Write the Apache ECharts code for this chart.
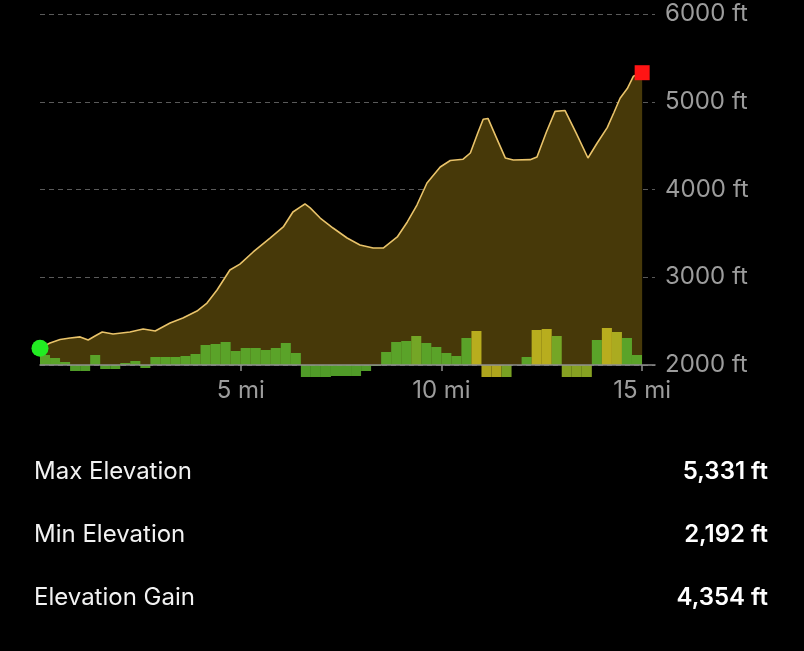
<!DOCTYPE html>
<html>
<head>
<meta charset="utf-8">
<script src="https://cdn.jsdelivr.net/npm/echarts@6/dist/echarts.min.js"></script>
<style>
html,body{margin:0;padding:0;background:#000;}
#chart{width:804px;height:651px;}
</style>
</head>
<body>
<div id="chart"></div>
<script>
// Distance along the track (mi) and elevation (ft)
const distanceMi = [0,0.25,0.5,0.75,1.0,1.2,1.37,1.55,1.82,2.24,2.57,2.87,3.24,3.56,3.91,4.16,4.41,4.73,4.98,5.31,5.73,6.06,6.30,6.48,6.60,6.73,6.98,7.30,7.65,7.97,8.30,8.55,8.90,9.15,9.39,9.64,9.97,10.22,10.54,10.72,10.91,11.04,11.16,11.36,11.59,11.79,12.21,12.38,12.61,12.83,13.08,13.36,13.65,13.88,14.13,14.30,14.45,14.63,14.78,15.0];
const elevationFt = [2192,2250,2290,2308,2320,2285,2330,2376,2353,2376,2410,2387,2479,2535,2615,2706,2855,3083,3150,3288,3447,3573,3744,3800,3835,3790,3675,3561,3447,3368,3333,3333,3459,3630,3823,4074,4256,4330,4345,4416,4650,4800,4810,4600,4360,4336,4340,4370,4650,4890,4900,4640,4359,4530,4705,4880,5040,5150,5290,5331];

// Grade per quarter-mile segment (relative units; steep descents are clipped by the chart)
const gradeValues = [10,7,3,-6,-6,10,-4,-4,2,4,-3,8,8,8,9,11,20,21,23,14,17,17,15,17,22,12,-13,-13,-13,-11,-11,-11,-6,-1,13,23,24,29,22,18,12,9,27,34,-35,-35,-30,0,8,35,36,29,-31,-31,-31,25,37,33,27,10];
const segmentLabels = gradeValues.map((_, i) => String(i));

// Axis tick labels
const xTickValues = [5, 10, 15];
const yTickValues = [2000, 3000, 4000, 5000, 6000];

// Summary stats
const statLabels = ['Max Elevation', 'Min Elevation', 'Elevation Gain'];
const statValues = ['5,331 ft', '2,192 ft', '4,354 ft'];

const startPoint = [distanceMi[0], elevationFt[0]];
const endPoint = [distanceMi[distanceMi.length - 1], elevationFt[elevationFt.length - 1]];

function gradeColor(v) {
  const a = Math.abs(v);
  let t = (a - 27) / 7;
  t = Math.max(0, Math.min(1, t));
  const g = [93, 181, 47], y = [203, 192, 34];
  const c = g.map((gv, k) => Math.round(gv + (y[k] - gv) * t));
  return 'rgba(' + c.join(',') + ',0.86)';
}

const chart = echarts.init(document.getElementById('chart'), null, {renderer: 'canvas'});
const FONT = 'Inter, "Noto Sans", sans-serif';

const statGraphics = [];
statLabels.forEach((lab, i) => {
  const cy = 471 + i * 63;
  statGraphics.push({
    type: 'text', left: 34, top: cy - 11, z: 100,
    style: {text: lab, fill: '#f2f2f2', font: '400 24px ' + FONT}
  });
  statGraphics.push({
    type: 'text', right: 36, top: cy - 11, z: 100,
    style: {text: statValues[i], fill: '#ffffff', font: '600 24px ' + FONT, textAlign: 'right'}
  });
});

chart.setOption({
  backgroundColor: '#000000',
  animation: false,
  grid: [
    {left: 40, right: 149, top: 14, bottom: 286},
    {left: 40, right: 162, top: 327, height: 50}
  ],
  xAxis: [
    {
      type: 'value', gridIndex: 0, min: 0, max: 15.32, z: 10,
      axisLine: {show: true, lineStyle: {color: '#8e8e8e', width: 1.5}},
      axisTick: {show: true, customValues: xTickValues, length: 6, lineStyle: {color: '#8e8e8e', width: 1.5}},
      axisLabel: {show: true, customValues: xTickValues, margin: 14, color: '#9c9c9c', fontSize: 24, fontFamily: FONT,
        formatter: v => v + ' mi'},
      splitLine: {show: false}
    },
    {
      type: 'category', gridIndex: 1, data: segmentLabels, boundaryGap: true,
      show: false
    }
  ],
  yAxis: [
    {
      type: 'value', gridIndex: 0, position: 'right', min: 2000, max: 6000, interval: 1000,
      axisLine: {show: false}, axisTick: {show: false},
      axisLabel: {margin: 10, color: '#9c9c9c', fontSize: 24, fontFamily: FONT, formatter: v => v + ' ft'},
      splitLine: {show: true, lineStyle: {color: '#5a5a5a', width: 1, type: [5, 4]}}
    },
    {
      type: 'value', gridIndex: 1, min: -12, max: 38, show: false, splitLine: {show: false}
    }
  ],
  series: [
    {
      type: 'line', xAxisIndex: 0, yAxisIndex: 0, z: 2,
      data: distanceMi.map((d, i) => [d, elevationFt[i]]),
      symbol: 'none', smooth: false,
      lineStyle: {color: '#e9c36a', width: 1.6},
      areaStyle: {color: '#473909', opacity: 1}
    },
    {
      type: 'bar', xAxisIndex: 1, yAxisIndex: 1, z: 3, clip: true,
      barCategoryGap: '0%', barGap: '0%',
      data: gradeValues.map(v => ({value: v, itemStyle: {color: gradeColor(v)}}))
    },
    {
      type: 'scatter', xAxisIndex: 0, yAxisIndex: 0, z: 20, zlevel: 1, clip: false,
      data: [startPoint], symbol: 'circle', symbolSize: 17,
      itemStyle: {color: '#22ec22', opacity: 1, borderWidth: 0}
    },
    {
      type: 'scatter', xAxisIndex: 0, yAxisIndex: 0, z: 20, zlevel: 1, clip: false,
      data: [endPoint], symbol: 'rect', symbolSize: 15,
      itemStyle: {color: '#ff1414', opacity: 1, borderWidth: 0}
    }
  ],
  graphic: statGraphics
});
</script>
</body>
</html>
